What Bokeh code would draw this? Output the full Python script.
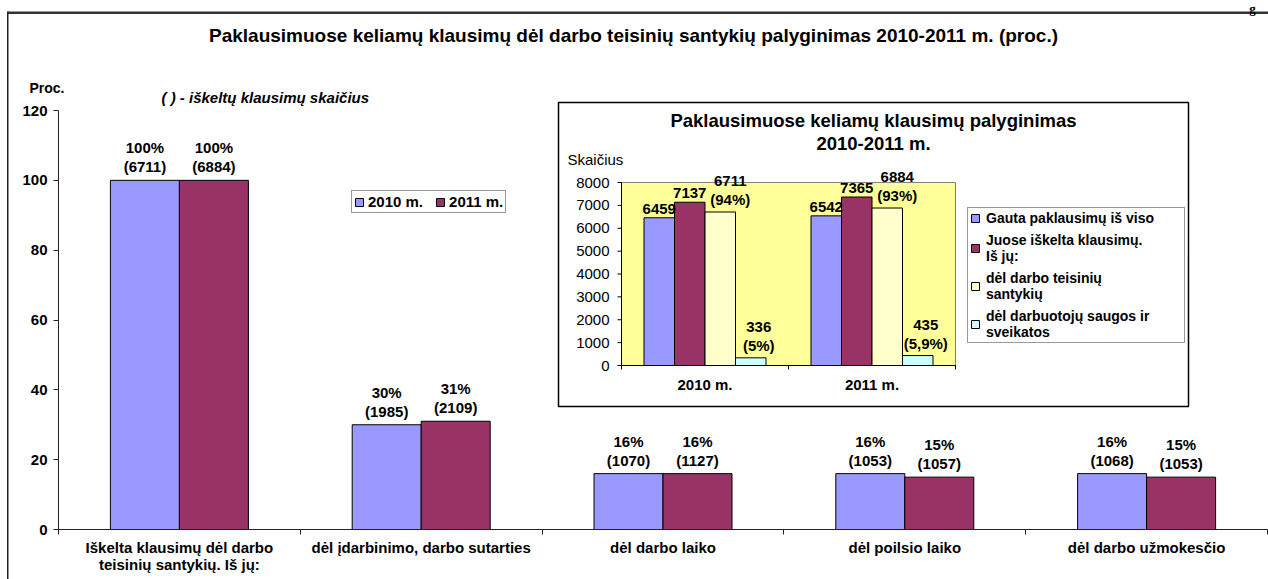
import math
from bokeh.plotting import figure
from bokeh.models import (Range1d, FixedTicker, Legend, LegendItem, ColumnDataSource)
from bokeh.transform import dodge
from bokeh.core.properties import value
from bokeh.embed import file_html
from bokeh.resources import INLINE

# ---------------- data ----------------
categories = ["Iškelta klausimų dėl darbo\nteisinių santykių. Iš jų:",
              "dėl įdarbinimo, darbo sutarties",
              "dėl darbo laiko",
              "dėl poilsio laiko",
              "dėl darbo užmokesčio"]
share_2010 = [100, 30, 16, 16, 16]
share_2011 = [100, 31, 16, 15, 15]
count_2010 = [6711, 1985, 1070, 1053, 1068]
count_2011 = [6884, 2109, 1127, 1057, 1053]
main_ticks = [0, 20, 40, 60, 80, 100, 120]
series_names = ["2010 m.", "2011 m."]

main_title = "Paklausimuose keliamų klausimų dėl darbo teisinių santykių palyginimas 2010-2011 m. (proc.)"
y_title = "Proc."
note = "( ) - iškeltų klausimų skaičius"

inset_title = "Paklausimuose keliamų klausimų palyginimas\n2010-2011 m."
inset_y_title = "Skaičius"
inset_years = ["2010 m.", "2011 m."]
inset_received = [6459, 6542]
inset_raised = [7137, 7365]
inset_labour = [6711, 6884]
inset_safety = [336, 435]
inset_labour_pct = ["94%", "93%"]
inset_safety_pct = ["5%", "5,9%"]
inset_ticks = [0, 1000, 2000, 3000, 4000, 5000, 6000, 7000, 8000]
inset_series = ["Gauta paklausimų iš viso",
                "Juose iškelta klausimų.\nIš jų:",
                "dėl darbo teisinių\nsantykių",
                "dėl darbuotojų saugos ir\nsveikatos"]

# ---------------- styles / layout ----------------
FONT = value("Liberation Sans")
BLUE, MAROON, CREAM, CYAN, YELLOW = "#9999FF", "#993366", "#FFFFCC", "#CCFFFF", "#FFFF99"

W, H = 1268, 579
FX0, FY0 = 58, 529          # chart origin (pixels)
PX_Y = (529 - 110) / 120    # px per percent
PX_X = (1267 - 58) / 5      # px per category

def dx(px_):
    return (px_ - FX0) / PX_X

def dy(py_):
    return (FY0 - py_) / PX_Y

p = figure(width=W, height=H,
           x_range=Range1d(dx(0), dx(W)), y_range=Range1d(dy(H), dy(0)),
           output_backend="svg", toolbar_location=None,
           min_border_left=0, min_border_right=0, min_border_top=0, min_border_bottom=0)
p.xgrid.visible = False
p.ygrid.visible = False
p.outline_line_color = None
p.background_fill_color = "white"
p.border_fill_color = "white"

# y axis (drawn at x = 0)
ya = p.yaxis[0]
ya.fixed_location = 0
ya.ticker = FixedTicker(ticks=main_ticks, minor_ticks=[])
ya.bounds = (0, 120)
ya.major_tick_out = 5
ya.major_tick_in = 0
ya.minor_tick_out = 0
ya.minor_tick_in = 0
ya.major_label_standoff = 6
ya.major_label_text_font = "Liberation Sans"
ya.major_label_text_font_style = "bold"
ya.major_label_text_font_size = "15px"
ya.major_label_text_color = "black"
ya.axis_line_color = "#222222"
ya.major_tick_line_color = "#222222"

# x axis (drawn at y = 0)
xa = p.xaxis[0]
xa.fixed_location = 0
centers = [i + 0.5 for i in range(len(categories))]
xa.ticker = FixedTicker(ticks=centers, minor_ticks=list(range(len(categories) + 1)))
xa.major_label_overrides = {c: lab for c, lab in zip(centers, categories)}
xa.bounds = (0, len(categories))
xa.major_tick_out = 0
xa.major_tick_in = 0
xa.minor_tick_out = 5
xa.minor_tick_in = 0
xa.minor_tick_line_color = "#222222"
xa.axis_line_color = "#222222"
xa.major_label_standoff = 4
xa.major_label_text_font = "Liberation Sans"
xa.major_label_text_font_style = "bold"
xa.major_label_text_font_size = "15px"
xa.major_label_text_color = "black"
xa.major_label_text_line_height = 1.0

# pixel-space helper for decorations
px = p.subplot(x_source=Range1d(0, W), y_source=Range1d(H, 0),
               x_target=p.x_range, y_target=p.y_range)

# outer frame lines and text fragment at the top
px.quad(left=[7], right=[W], top=[11], bottom=[13.5], fill_color="#333333", line_color=None)
px.quad(left=[6.5], right=[8], top=[11], bottom=[H], fill_color="#222222", line_color=None)
px.text(x=[1252], y=[0], text=["g"], text_align="center", text_baseline="top",
        text_font=value("Liberation Serif"), text_font_style="bold", text_font_size="13px",
        text_color="black")

# titles
px.text(x=[633], y=[35], text=[main_title], text_align="center", text_baseline="middle",
        text_font=FONT, text_font_style="bold", text_font_size="19px", text_color="black")
px.text(x=[161], y=[97], text=[note], text_align="left", text_baseline="middle",
        text_font=FONT, text_font_style="bold italic", text_font_size="15px", text_color="black")
px.text(x=[29], y=[87], text=[y_title], text_align="left", text_baseline="middle",
        text_font=FONT, text_font_style="bold", text_font_size="14px", text_color="black")

# main bars
src = ColumnDataSource(dict(
    x=centers, s10=share_2010, s11=share_2011,
    l10=[f"{s}%\n({c})" for s, c in zip(share_2010, count_2010)],
    l11=[f"{s}%\n({c})" for s, c in zip(share_2011, count_2011)],
))
BW = 69 / PX_X
r10 = p.vbar(x=dodge("x", -BW / 2, range=p.x_range), top="s10", width=BW, source=src,
             fill_color=BLUE, line_color="black", line_width=1)
r11 = p.vbar(x=dodge("x", BW / 2, range=p.x_range), top="s11", width=BW, source=src,
             fill_color=MAROON, line_color="black", line_width=1)
for key, lab, off in (("s10", "l10", -BW / 2), ("s11", "l11", BW / 2)):
    p.text(x=dodge("x", off, range=p.x_range), y=key, text=lab, source=src,
           text_align="center", text_baseline="bottom", y_offset=-5,
           text_font=FONT, text_font_style="bold", text_font_size="15px",
           text_line_height=1.12, text_color="black")

main_legend = Legend(items=[LegendItem(label=series_names[0], renderers=[r10]),
                            LegendItem(label=series_names[1], renderers=[r11])],
                     location=(351, H - 213), orientation="horizontal",
                     glyph_width=10, glyph_height=10, label_height=14, label_width=10,
                     label_standoff=4, spacing=12, padding=2, margin=0,
                     border_line_color="#333333", border_line_width=1,
                     background_fill_color="white", background_fill_alpha=1,
                     label_text_font="Liberation Sans", label_text_font_style="bold",
                     label_text_font_size="15px", label_text_color="black")
p.add_layout(main_legend)

# ---------------- inset chart ----------------
px.quad(left=[558], right=[1188], top=[102], bottom=[406],
        fill_color="white", line_color="black", line_width=1.5)
px.text(x=[873], y=[131.5], text=[inset_title], text_align="center", text_baseline="middle",
        text_font=FONT, text_font_style="bold", text_font_size="18.5px",
        text_line_height=1.05, text_color="black")
px.text(x=[567], y=[159], text=[inset_y_title], text_align="left", text_baseline="middle",
        text_font=FONT, text_font_size="15px", text_color="black")

ix = Range1d(0, len(inset_years))
iy = Range1d(0, inset_ticks[-1])
ins = p.subplot(x_source=ix, y_source=iy,
                x_target=Range1d(dx(621), dx(955)), y_target=Range1d(dy(365), dy(182)))

ins.quad(left=[ix.start], right=[ix.end], bottom=[iy.start], top=[iy.end],
         fill_color=YELLOW, line_color="#808080", line_width=1)

isrc = ColumnDataSource(dict(
    x=[i + 0.5 for i in range(len(inset_years))],
    a=inset_received, b=inset_raised, c=inset_labour, d=inset_safety,
    la=[str(v) for v in inset_received],
    lb=[str(v) for v in inset_raised],
    lc=[f"{v}\n({q})" for v, q in zip(inset_labour, inset_labour_pct)],
    ld=[f"{v}\n({q})" for v, q in zip(inset_safety, inset_safety_pct)],
))
IBW = 30.5 / (955 - 621) * len(inset_years)
inset_renderers = []
label_shift = [0, 0, 10, 8]
for k, (col, color) in enumerate((("a", BLUE), ("b", MAROON), ("c", CREAM), ("d", CYAN))):
    off = (k - 1.5) * IBW
    r = ins.vbar(x=dodge("x", off), top=col, width=IBW, source=isrc,
                 fill_color=color, line_color="black", line_width=1)
    inset_renderers.append(r)
for k, (col, lab) in enumerate((("a", "la"), ("b", "lb"), ("c", "lc"), ("d", "ld"))):
    off = (k - 1.5) * IBW
    ins.text(x=dodge("x", off), y=col, text=lab, source=isrc,
             text_align="center", text_baseline="bottom", y_offset=-4, x_offset=label_shift[k],
             text_font=FONT, text_font_style="bold", text_font_size="15px",
             text_line_height=1.1, text_color="black")

# inset axes
ins.segment(x0=[ix.start], y0=[iy.start], x1=[ix.start], y1=[iy.end], line_color="black", line_width=1)
ins.segment(x0=[ix.start], y0=[iy.start], x1=[ix.end], y1=[iy.start], line_color="black", line_width=1)
ins.ray(x=[ix.start] * len(inset_ticks), y=inset_ticks, length=4, length_units="screen",
        angle=math.pi, line_color="black", line_width=1)
ins.ray(x=list(range(len(inset_years) + 1)), y=[iy.start] * (len(inset_years) + 1), length=4,
        length_units="screen", angle=-math.pi / 2, line_color="black", line_width=1)
ins.text(x=[ix.start] * len(inset_ticks), y=inset_ticks, text=[str(t) for t in inset_ticks],
         x_offset=-12, text_align="right", text_baseline="middle",
         text_font=FONT, text_font_size="15px", text_color="black")
ins.text(x=[i + 0.5 for i in range(len(inset_years))], y=[iy.start] * len(inset_years),
         text=inset_years, y_offset=19, text_align="center", text_baseline="middle",
         text_font=FONT, text_font_style="bold", text_font_size="15px", text_color="black")

inset_legend = Legend(items=[LegendItem(label=n, renderers=[r]) for n, r in zip(inset_series, inset_renderers)],
                      location=(967, H - 343), orientation="vertical",
                      glyph_width=10, glyph_height=10, label_height=14, label_width=196,
                      label_standoff=6, spacing=6, padding=2, margin=0,
                      border_line_color="#333333", border_line_width=1,
                      background_fill_color="white", background_fill_alpha=1,
                      label_text_font="Liberation Sans", label_text_font_style="bold",
                      label_text_font_size="14px",
                      label_text_color="black")
p.add_layout(inset_legend)

open("out.html", "w").write(file_html(p, INLINE))
